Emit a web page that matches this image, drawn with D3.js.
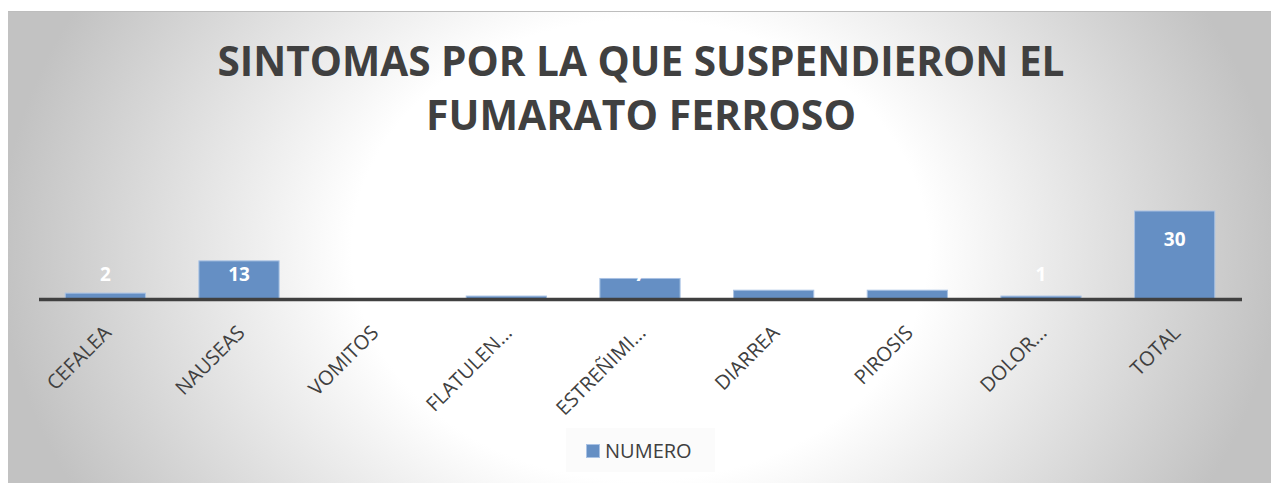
<!DOCTYPE html>
<meta charset="utf-8">
<style>
body { margin: 0; background: #fff; }
svg { display: block; font-family: "Open Sans", "Noto Sans", sans-serif; }
.cat { font-size: 20px; fill: #404040; }
.lbl { font-size: 19px; font-weight: bold; fill: #fff; }
</style>
<script src="https://cdnjs.cloudflare.com/ajax/libs/d3/7.8.5/d3.min.js"></script>
<body>
<script>

// chart data
var categories = ["CEFALEA", "NAUSEAS", "VOMITOS", "FLATULEN...", "ESTREÑIMI...", "DIARREA", "PIROSIS", "DOLOR...", "TOTAL"];
var values = [2, 13, 0, 1, 7, 3, 3, 1, 30];
var titleLines = ["SINTOMAS POR LA QUE SUSPENDIERON EL", "FUMARATO FERROSO"];
var seriesName = "NUMERO";

var W = 1271, H = 483;
var barFill = "#658fc4", barStroke = "#a9c2e4";

var svg = d3.select("body").append("svg")
    .attr("width", W)
    .attr("height", H);

// radial grey background, white in the middle
var grad = svg.append("defs").append("radialGradient")
    .attr("id", "bg")
    .attr("gradientUnits", "userSpaceOnUse")
    .attr("cx", 640).attr("cy", 250).attr("r", 640)
    .attr("gradientTransform", "translate(0,250) scale(1,0.8) translate(0,-250)");
grad.append("stop").attr("offset", "0").attr("stop-color", "#ffffff");
grad.append("stop").attr("offset", "0.45").attr("stop-color", "#ffffff");
grad.append("stop").attr("offset", "1").attr("stop-color", "#c2c2c2");

svg.append("rect")
    .attr("x", 8).attr("y", 11)
    .attr("width", W - 8).attr("height", H - 11)
    .attr("fill", "url(#bg)");
svg.append("line")
    .attr("x1", 8).attr("x2", W).attr("y1", 11.5).attr("y2", 11.5)
    .attr("stroke", "#bdbdbd");

// title
svg.append("g").selectAll("text")
    .data(titleLines)
  .enter().append("text")
    .attr("x", 641)
    .attr("y", function(d, i) { return 76 + i * 54; })
    .attr("text-anchor", "middle")
    .attr("textLength", function(d, i) { return i == 0 ? 847 : 430; })
    .attr("lengthAdjust", "spacingAndGlyphs")
    .style("font-size", "41px")
    .style("font-weight", "bold")
    .style("fill", "#404040")
    .text(function(d) { return d; });

// scales
var x = d3.scaleBand()
    .domain(categories)
    .range([38.5, 1241.5])
    .paddingInner(0.4)
    .paddingOuter(0.2);

var y = d3.scaleLinear()
    .domain([0, 30])
    .range([299, 211]);

var data = categories.map(function(c, i) { return {cat: c, val: values[i]}; });

// bars
svg.selectAll(".bar")
    .data(data)
  .enter().append("rect")
    .attr("class", "bar")
    .attr("x", function(d) { return x(d.cat); })
    .attr("width", x.bandwidth())
    .attr("y", function(d) { return y(d.val); })
    .attr("height", function(d) { return y(0) - y(d.val); })
    .attr("fill", barFill)
    .attr("stroke", barStroke)
    .attr("stroke-width", 1);

// axis line
var xAxis = d3.axisBottom(x).tickSize(0).tickFormat("");
var ax = svg.append("g")
    .attr("transform", "translate(0," + y(0) + ")")
    .call(xAxis);
ax.select(".domain")
    .attr("stroke", "#404040")
    .attr("stroke-width", 3.5);

// rotated category labels
svg.selectAll(".cat")
    .data(data)
  .enter().append("text")
    .attr("class", "cat")
    .attr("text-anchor", "end")
    .attr("transform", function(d) {
      return "translate(" + (x(d.cat) + x.bandwidth() / 2 + 7) + ",334) rotate(-45)";
    })
    .text(function(d) { return d.cat; });

// data labels (white, zero left out)
svg.selectAll(".lbl")
    .data(data.filter(function(d) { return d.val > 0; }))
  .enter().append("text")
    .attr("class", "lbl")
    .attr("text-anchor", "middle")
    .attr("x", function(d) { return x(d.cat) + x.bandwidth() / 2; })
    .attr("y", function(d) { return Math.min(y(d.val) + 35, y(0) - 18); })
    .text(function(d) { return d.val; });

// legend
var lg = svg.append("g");
lg.append("rect")
    .attr("x", 566).attr("y", 428)
    .attr("width", 149).attr("height", 44)
    .attr("fill", "#fafafa").attr("fill-opacity", 0.7);
lg.append("rect")
    .attr("x", 586.5).attr("y", 444.5)
    .attr("width", 13).attr("height", 13)
    .attr("fill", barFill).attr("stroke", barStroke);
lg.append("text")
    .attr("x", 605).attr("y", 457.5)
    .style("font-size", "20px")
    .style("fill", "#404040")
    .text(seriesName);

</script>
